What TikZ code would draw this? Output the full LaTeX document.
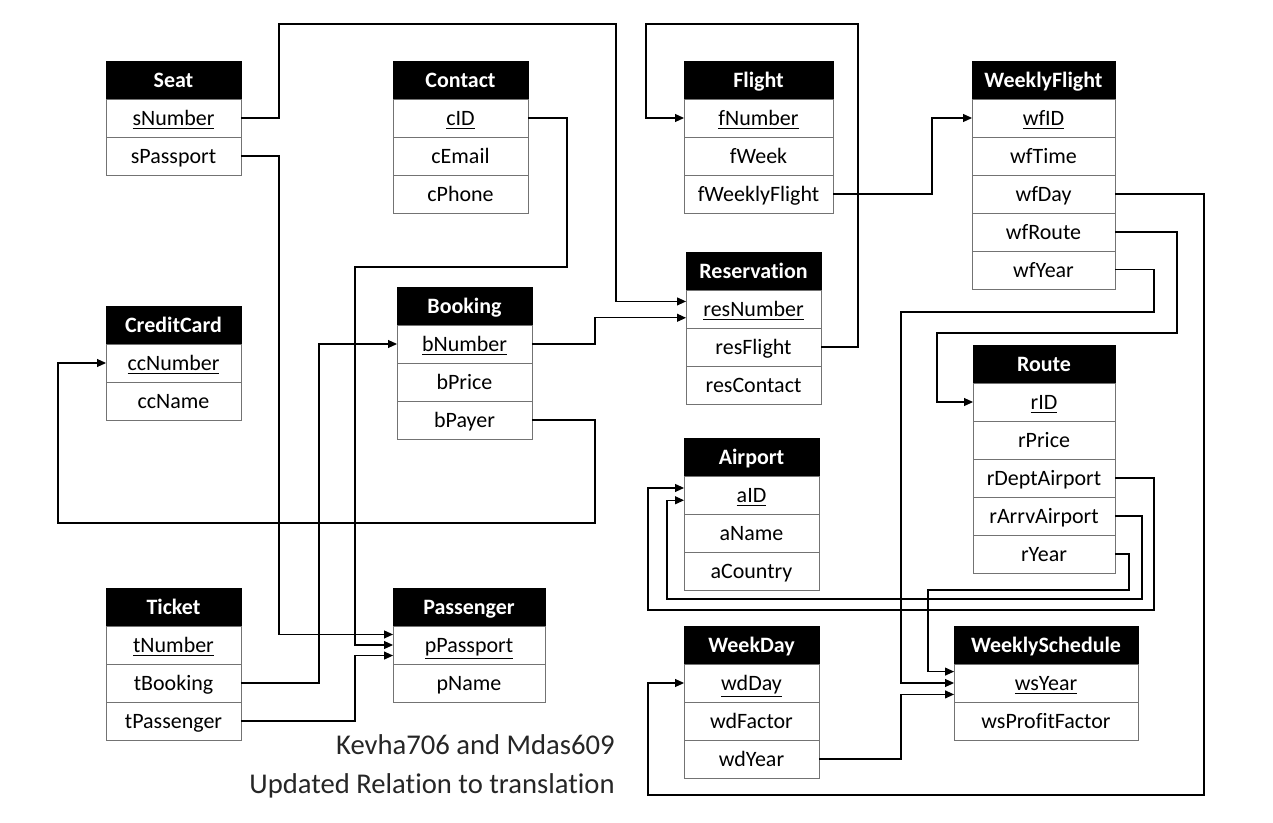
\documentclass[tikz,border=0pt]{standalone}
\usepackage{fontspec}
\setmainfont{Carlito}[Ligatures=NoCommon]
\usepackage{tikz}
\usetikzlibrary{positioning, arrows.meta}

\tikzset{
  hdr/.style={draw=black, fill=black, text=white,
    font=\fontsize{12.5}{14}\selectfont\bfseries,
    text height=10pt, text depth=1.5pt,
    minimum height=0.76cm, inner sep=0pt, outer sep=0pt},
  fld/.style={draw=black!55, fill=white,
    font=\fontsize{12.5}{14}\selectfont,
    text height=10pt, text depth=1.5pt,
    minimum height=0.76cm, inner sep=0pt, outer sep=0pt},
  fk/.style={-{Triangle[length=1.8mm,width=1.6mm]}, line width=0.6pt},
  credit/.style={anchor=east, text=black!85, inner sep=0pt,
    font=\fontsize{16.3}{18}\selectfont},
}

% table: name, header centre, width; first field is the key
\newcommand{\dbtable}[4]{%
  \node[hdr, minimum width=#3] (#1) at (#2) {#1};
  \foreach \f [count=\i, remember=\f as \prev (initially #1)] in {#4} {
    \node[fld, minimum width=#3, below=0pt of \prev] (\f)
      {\ifnum\i=1 \underline{\f}\else\f\fi};
  }
}

\begin{document}
\begin{tikzpicture}[x=0.02cm, y=-0.02cm]
  \useasboundingbox (0,0) rectangle (1273,822);

  % tables
  \dbtable{Seat}{173.5,80}{2.7cm}{sNumber,sPassport}
  \dbtable{Contact}{460.5,80}{2.7cm}{cID,cEmail,cPhone}
  \dbtable{Flight}{758.5,80}{2.98cm}{fNumber,fWeek,fWeeklyFlight}
  \dbtable{WeeklyFlight}{1043.5,80}{2.86cm}{wfID,wfTime,wfDay,wfRoute,wfYear}
  \dbtable{Reservation}{753.5,271}{2.7cm}{resNumber,resFlight,resContact}
  \dbtable{CreditCard}{173.5,325}{2.7cm}{ccNumber,ccName}
  \dbtable{Booking}{464.5,306}{2.7cm}{bNumber,bPrice,bPayer}
  \dbtable{Route}{1044,364}{2.84cm}{rID,rPrice,rDeptAirport,rArrvAirport,rYear}
  \dbtable{Airport}{751.5,457}{2.7cm}{aID,aName,aCountry}
  \dbtable{Ticket}{173.5,607}{2.7cm}{tNumber,tBooking,tPassenger}
  \dbtable{Passenger}{469,607}{3.04cm}{pPassport,pName}
  \dbtable{WeekDay}{751.5,645}{2.7cm}{wdDay,wdFactor,wdYear}
  \dbtable{WeeklySchedule}{1046,645}{3.68cm}{wsYear,wsProfitFactor}

  % foreign keys
  \draw[fk] (sNumber.east) -- ++(38,0) |- (616,24) |- ([yshift=4.3pt]resNumber.west);
  \draw[fk] (sPassport.east) -- ++(38,0) |- ([yshift=6pt]pPassport.west);
  \draw[fk] (cID.east) -- ++(39,0) |- (355,267) |- (pPassport.west);
  \draw[fk] (tBooking.east) -- ++(78,0) |- (bNumber.west);
  \draw[fk] (tPassenger.east) -- ++(114,0) |- ([yshift=-6pt]pPassport.west);
  \draw[fk] (bNumber.east) -- ++(63,0) |- ([yshift=-5pt]resNumber.west);
  \draw[fk] (bPayer.east) -- ++(63,0) |- (58,523) |- (ccNumber.west);
  \draw[fk] (resFlight.east) -- ++(37,0) |- (646,24) |- (fNumber.west);
  \draw[fk] (fWeeklyFlight.east) -- ++(99,0) |- (wfID.west);
  \draw[fk] (wfDay.east) -- ++(89,0) |- (648,795) |- (wdDay.west);
  \draw[fk] (wfRoute.east) -- ++(62,0) |- (937,333) |- (rID.west);
  \draw[fk] (wfYear.east) -- ++(39,0) |- (901,312) |- (wsYear.west);
  \draw[fk] (rDeptAirport.east) -- ++(39,0) |- (648,610) |- ([yshift=4pt]aID.west);
  \draw[fk] (rArrvAirport.east) -- ++(27,0) |- (667,599) |- ([yshift=-3pt]aID.west);
  \draw[fk] (rYear.east) -- ++(14,0) |- (928,590) |- ([yshift=6.5pt]wsYear.west);
  \draw[fk] (wdYear.east) -- ++(82,0) |- ([yshift=-6.5pt]wsYear.west);

  % credits
  \node[credit] (authors) at (615,745) {Kevha706 and Mdas609};
  \node[credit] (note) at (615,786) {Updated Relation to translation};
\end{tikzpicture}
\end{document}
